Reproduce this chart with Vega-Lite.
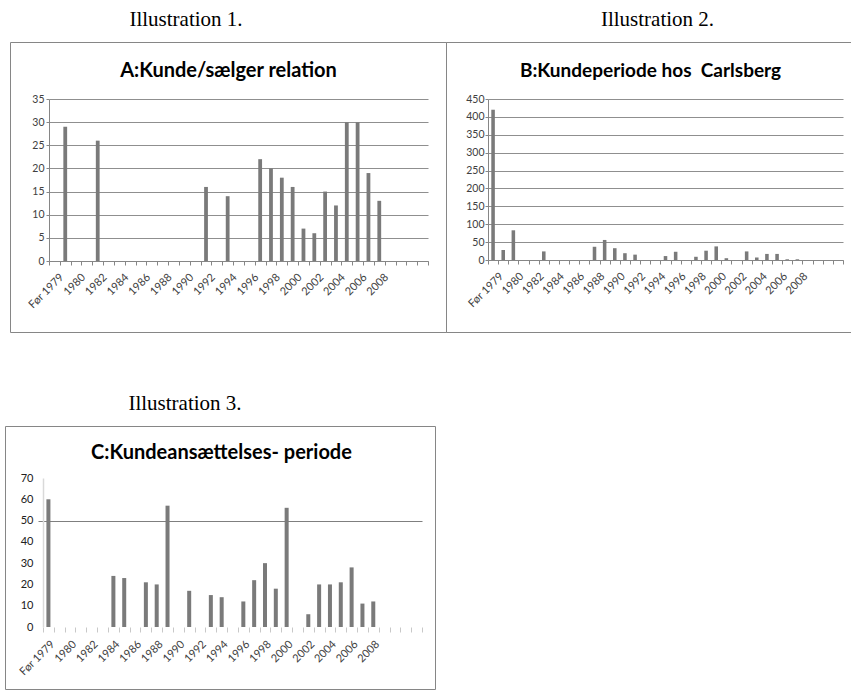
{
  "$schema": "https://vega.github.io/schema/vega-lite/v6.json",
  "padding": {"left": 4, "top": 8, "right": 0, "bottom": 0},
  "background": "white",
  "datasets": {
    "A": [
      {"year": "1979", "count": 29}, {"year": "1982", "count": 26}, {"year": "1992", "count": 16},
      {"year": "1994", "count": 14}, {"year": "1997", "count": 22}, {"year": "1998", "count": 20},
      {"year": "1999", "count": 18}, {"year": "2000", "count": 16}, {"year": "2001", "count": 7},
      {"year": "2002", "count": 6}, {"year": "2003", "count": 15}, {"year": "2004", "count": 12},
      {"year": "2005", "count": 30}, {"year": "2006", "count": 30}, {"year": "2007", "count": 19},
      {"year": "2008", "count": 13}
    ],
    "B": [
      {"year": "Før 1979", "count": 420}, {"year": "1979", "count": 28}, {"year": "1980", "count": 83},
      {"year": "1983", "count": 24}, {"year": "1988", "count": 37}, {"year": "1989", "count": 56},
      {"year": "1990", "count": 33}, {"year": "1991", "count": 19}, {"year": "1992", "count": 15},
      {"year": "1995", "count": 11}, {"year": "1996", "count": 23}, {"year": "1998", "count": 9},
      {"year": "1999", "count": 26}, {"year": "2000", "count": 38}, {"year": "2001", "count": 5},
      {"year": "2003", "count": 24}, {"year": "2004", "count": 7}, {"year": "2005", "count": 17},
      {"year": "2006", "count": 17}, {"year": "2007", "count": 2}, {"year": "2008", "count": 2}
    ],
    "C": [
      {"year": "Før 1979", "count": 60}, {"year": "1984", "count": 24}, {"year": "1985", "count": 23},
      {"year": "1987", "count": 21}, {"year": "1988", "count": 20}, {"year": "1989", "count": 57},
      {"year": "1991", "count": 17}, {"year": "1993", "count": 15}, {"year": "1994", "count": 14},
      {"year": "1996", "count": 12}, {"year": "1997", "count": 22}, {"year": "1998", "count": 30},
      {"year": "1999", "count": 18}, {"year": "2000", "count": 56}, {"year": "2002", "count": 6},
      {"year": "2003", "count": 20}, {"year": "2004", "count": 20}, {"year": "2005", "count": 21},
      {"year": "2006", "count": 28}, {"year": "2007", "count": 11}, {"year": "2008", "count": 12}
    ]
  },
  "config": {
    "view": {"stroke": "#868686", "strokeWidth": 1},
    "title": {"font": "Liberation Serif", "fontSize": 21, "fontWeight": "normal", "color": "#000000", "baseline": "alphabetic", "offset": 12, "anchor": "middle"},
    "axis": {"labelFont": "Lato", "labelColor": "#404040", "titleFont": "Lato", "titleFontWeight": "bold", "titleColor": "#000000", "titleFontSize": 20, "titleAngle": 0, "titleAlign": "center", "titleBaseline": "middle", "domainColor": "#868686", "tickColor": "#868686", "gridColor": "#8f8f8f", "labelOverlap": false},
    "bar": {"color": "#7a7a7a"}
  },
  "spacing": 59,
  "vconcat": [
    {
      "hconcat": [
        {
          "width": 1, "height": 1,
          "view": {"stroke": null},
          "data": {"values": []},
          "mark": {"type": "rule"},
          "encoding": {}
        },
        {
          "hconcat": [
            {
              "width": 436, "height": 290,
              "title": {"text": "Illustration 1.", "dx": -42},
              "data": {"name": "A"},
              "mark": {"type": "bar", "width": {"band": 0.35}},
              "encoding": {
                "x": {"field": "year", "type": "nominal", "sort": null,
                  "scale": {"domain": ["Før 1979","1979","1980","1981","1982","1983","1984","1985","1986","1987","1988","1989","1990","1991","1992","1993","1994","1995","1996","1997","1998","1999","2000","2001","2002","2003","2004","2005","2006","2007","2008","2009","2010","2011","2012"], "range": [39, 418], "paddingInner": 0, "paddingOuter": 0},
                  "axis": {"orient": "bottom", "offset": -71, "labelAngle": -45, "labelExpr": "datum.value == 'Før 1979' || (toNumber(datum.value) % 2 == 0 && toNumber(datum.value) <= 2008) ? datum.value : ''", "tickBand": "extent", "tickSize": 4, "labelFontSize": 11, "labelPadding": 6, "labelOffset": 3, "title": null}
                },
                "y": {"field": "count", "type": "quantitative",
                  "scale": {"domain": [0, 35], "range": [219, 57], "nice": false},
                  "axis": {"orient": "left", "offset": -39, "values": [0,5,10,15,20,25,30,35], "grid": true, "tickSize": 3, "labelPadding": 2, "labelFontSize": 10.5, "title": "A:Kunde/sælger relation", "titleX": 179, "titleY": 28}
                }
              }
            },
            {
              "width": 405, "height": 290,
              "title": {"text": "Illustration 2.", "dx": 9},
              "data": {"name": "B"},
              "mark": {"type": "bar", "width": {"band": 0.35}},
              "encoding": {
                "x": {"field": "year", "type": "nominal", "sort": null,
                  "scale": {"domain": ["Før 1979","1979","1980","1981","1982","1983","1984","1985","1986","1987","1988","1989","1990","1991","1992","1993","1994","1995","1996","1997","1998","1999","2000","2001","2002","2003","2004","2005","2006","2007","2008","2009","2010","2011","2012"], "range": [42, 397], "paddingInner": 0, "paddingOuter": 0},
                  "axis": {"orient": "bottom", "offset": -72, "labelAngle": -45, "labelExpr": "datum.value == 'Før 1979' || (toNumber(datum.value) % 2 == 0 && toNumber(datum.value) <= 2008) ? datum.value : ''", "tickBand": "extent", "tickSize": 4, "labelFontSize": 11, "labelPadding": 6, "labelOffset": 4, "title": null}
                },
                "y": {"field": "count", "type": "quantitative",
                  "scale": {"domain": [0, 450], "range": [218, 57], "nice": false},
                  "axis": {"orient": "left", "offset": -42, "values": [0,50,100,150,200,250,300,350,400,450], "grid": true, "tickSize": 3, "labelPadding": 1, "labelFontSize": 10.5, "title": "B:Kundeperiode hos\u00a0 Carlsberg", "titleFontSize": 19, "titleX": 162, "titleY": 28}
                }
              }
            }
          ],
          "spacing": 0,
          "bounds": "flush"
        }
      ],
      "spacing": 4,
      "bounds": "flush"
    },
    {
      "width": 430, "height": 263,
      "title": {"text": "Illustration 3.", "dx": -35},
      "data": {"name": "C"},
      "mark": {"type": "bar", "width": {"band": 0.37}},
      "encoding": {
        "x": {"field": "year", "type": "nominal", "sort": null,
          "scale": {"domain": ["Før 1979","1979","1980","1981","1982","1983","1984","1985","1986","1987","1988","1989","1990","1991","1992","1993","1994","1995","1996","1997","1998","1999","2000","2001","2002","2003","2004","2005","2006","2007","2008","2009","2010","2011","2012"], "range": [38, 417], "paddingInner": 0, "paddingOuter": 0},
          "axis": {"orient": "bottom", "offset": -62, "labelAngle": -45, "labelExpr": "datum.value == 'Før 1979' || (toNumber(datum.value) % 2 == 0 && toNumber(datum.value) <= 2008) ? datum.value : ''", "tickBand": "extent", "tickSize": 5, "tickColor": "#c8c8c8", "domain": false, "labelFontSize": 11, "labelPadding": 6, "labelOffset": 0, "title": null}
        },
        "y": {"field": "count", "type": "quantitative",
          "scale": {"domain": [0, 70], "range": [201, 52], "nice": false},
          "axis": {"orient": "left", "offset": -38, "values": [0,10,20,30,40,50,60,70], "grid": true, "gridColor": "#7f7f7f",
            "gridOpacity": {"condition": {"test": "datum.value == 50", "value": 1}, "value": 0},
            "tickOpacity": {"condition": {"test": "datum.value == 50", "value": 1}, "value": 0},
            "tickColor": "#7f7f7f", "tickSize": 5, "domainColor": "#d9d9d9", "domainWidth": 1.5, "labelPadding": 5, "labelFontSize": 11, "labelColor": "#202020",
            "title": "C:Kundeansættelses- periode", "titleX": 178, "titleY": 26}
        }
      }
    }
  ]
}
